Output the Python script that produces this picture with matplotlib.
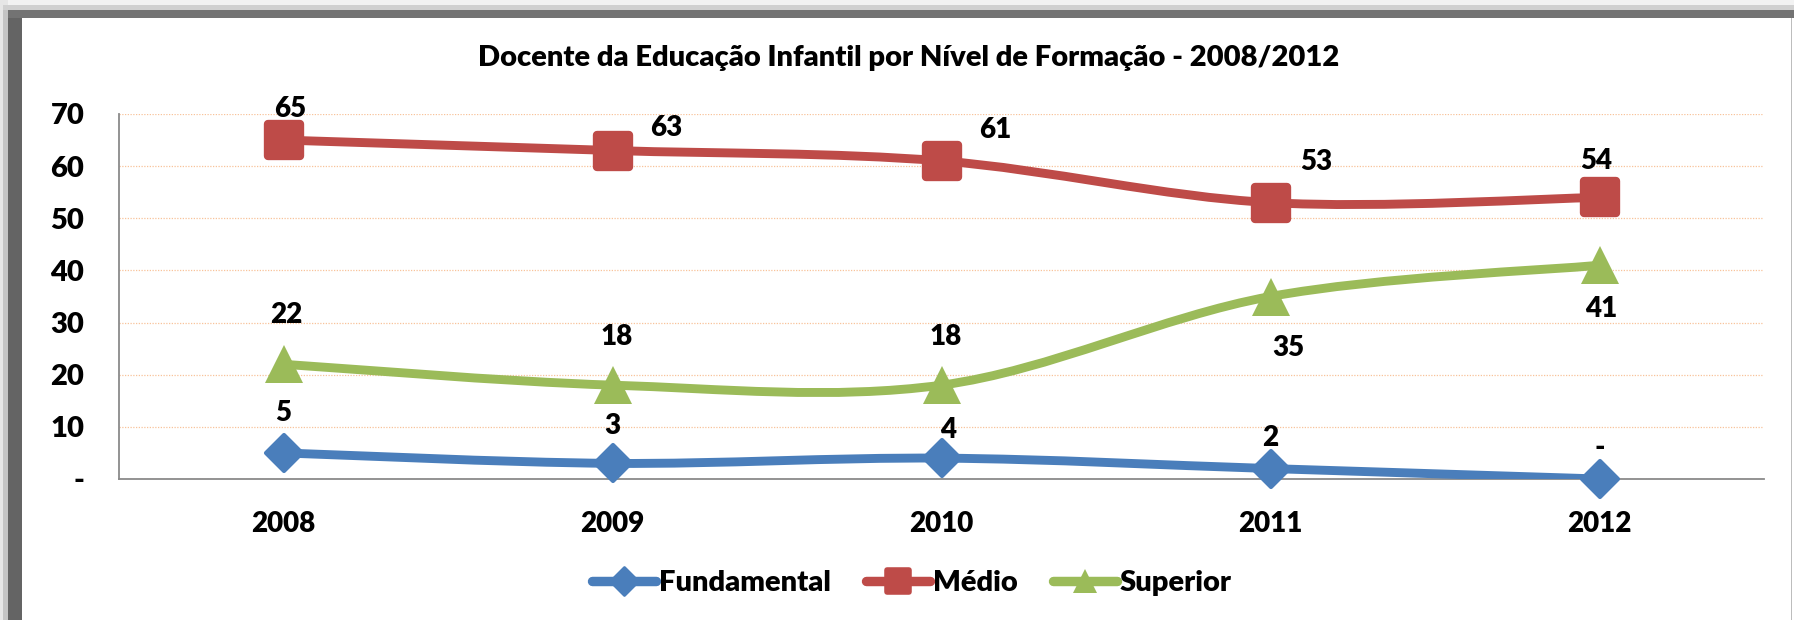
import matplotlib
matplotlib.use("Agg")
import numpy as np
import matplotlib.pyplot as plt
from matplotlib.path import Path
from matplotlib.patches import PathPatch, Rectangle
from matplotlib.lines import Line2D
from matplotlib.markers import MarkerStyle

# data
years = ["2008", "2009", "2010", "2011", "2012"]
fundamental = [5, 3, 4, 2, 0]
medio = [65, 63, 61, 53, 54]
superior = [22, 18, 18, 35, 41]

y_ticks = [0, 10, 20, 30, 40, 50, 60, 70]
y_ticklabels = ["-", "10", "20", "30", "40", "50", "60", "70"]

# where each data label sits relative to its point (pixels, y up)
off_fund = [(0, 40), (0, 37), (7, 28), (0, 31), (0, 31)]
off_medio = [(7, 31), (54, 23), (54, 31), (46, 41), (-3, 36)]
off_sup = [(3, 49), (4, 48), (4, 48), (18, -52), (2, -44)]

BLUE = "#4A7EBB"
RED = "#BE4B48"
GREEN = "#9BBB59"

plt.rcParams['font.family'] = ['Lato', 'DejaVu Sans']
plt.rcParams['font.weight'] = 'bold'

W, H = 1794, 620
FS = 20


def smooth_path(xs, ys):
    # excel style smoothed line: bezier segments through the points
    pts = np.column_stack([xs, ys]).astype(float)
    n = len(pts)
    verts = [pts[0]]
    codes = [Path.MOVETO]
    for i in range(n - 1):
        p0 = pts[max(i - 1, 0)]
        p1 = pts[i]
        p2 = pts[i + 1]
        p3 = pts[min(i + 2, n - 1)]
        verts += [p1 + (p2 - p0) / 6.0, p2 - (p3 - p1) / 6.0, p2]
        codes += [Path.CURVE4] * 3
    return Path(verts, codes)


def label_text(v):
    return "-" if v == 0 else str(v)


fig = plt.figure(figsize=(W / 100, H / 100), dpi=100)

# frame around the chart (dark band with soft shadow)
def px_rect(x0, y0, x1, y1, color, z=0):
    fig.patches.append(Rectangle((x0 / W, 1 - y1 / H), (x1 - x0) / W, (y1 - y0) / H,
                                 transform=fig.transFigure, color=color, zorder=z, lw=0))

px_rect(0, 0, W, 10, "#f2f2f2")
px_rect(0, 0, 8, H, "#e6e6e6")
px_rect(3, 5, 8, H, "#c4c4c4")
px_rect(3, 5, W, 10, "#d0d0d0")
px_rect(8, 10, 22, H, "#646464")
px_rect(8, 10, W, 18, "#737373")
px_rect(W - 3, 18, W - 2, H, "#bdbdbd")

ax = fig.add_axes([119 / W, 1 - 479 / H, (1764 - 119) / W, (479 - 114) / H])
ax.set_facecolor("none")

x = np.arange(len(years))

series = [
    ("Fundamental", fundamental, BLUE, "D", off_fund),
    ("Médio", medio, RED, "s", off_medio),
    ("Superior", superior, GREEN, "^", off_sup),
]

marker_style = {
    "D": dict(ms=18, mew=3),
    "s": dict(ms=23, mew=6),
    "^": dict(ms=28, mew=0),
}
legend_marker = {
    "D": dict(ms=14, mew=2),
    "s": dict(ms=16, mew=4),
    "^": dict(ms=17, mew=0),
}

handles = []
for name, vals, col, mk, offs in series:
    ax.add_patch(PathPatch(smooth_path(x, vals), fill=False, edgecolor=col, lw=6.4,
                           capstyle="round", joinstyle="round", zorder=3))
    ax.plot(x, vals, linestyle="none", marker=MarkerStyle(mk, joinstyle="round"),
            color=col, mec=col, zorder=4, clip_on=False, **marker_style[mk])
    for xi, v, (dx, dy) in zip(x, vals, offs):
        ax.annotate(label_text(v), (xi, v), xytext=(dx, dy), textcoords="offset pixels",
                    ha="center", va="center", fontsize=FS, fontweight="heavy", zorder=5)
    handles.append(Line2D([], [], color=col, lw=6.8, marker=MarkerStyle(mk, joinstyle="round"),
                          mec=col, solid_capstyle="round", label=name, **legend_marker[mk]))

ax.set_xlim(-0.5, len(years) - 0.5)
ax.set_ylim(0, 70)
ax.set_xticks(x, years)
ax.set_yticks(y_ticks, y_ticklabels)
ax.tick_params(axis="both", length=0, labelsize=FS)
ax.tick_params(axis="y", pad=25, labelsize=FS + 1)
ax.tick_params(axis="x", pad=23)
for lab in ax.get_xticklabels() + ax.get_yticklabels():
    lab.set_fontweight("heavy")

ax.yaxis.grid(True, color="#F8C39A", linestyle=(0, (1, 1.2)), lw=0.9)
ax.set_axisbelow(True)
for s in ["top", "right"]:
    ax.spines[s].set_visible(False)
for s in ["left", "bottom"]:
    ax.spines[s].set_color("#8a8a8a")
    ax.spines[s].set_linewidth(1.3)

fig.text(909 / W, 1 - 58 / H, "Docente da Educação Infantil por Nível de Formação - 2008/2012",
         ha="center", va="center", fontsize=21, fontweight="heavy")

fig.legend(handles=handles, loc="center", bbox_to_anchor=(912 / W, 1 - 583 / H), ncol=3,
           frameon=False, handlelength=2.2, handletextpad=0.1,
           columnspacing=1.2, prop={"weight": "heavy", "size": FS + 1})

fig.savefig("out.png", dpi=100)
